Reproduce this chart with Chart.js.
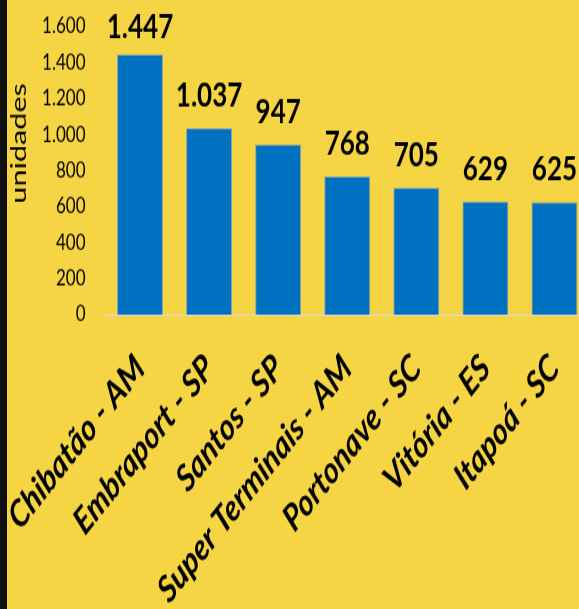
<!DOCTYPE html>
<html><head><meta charset="utf-8">
<script src="https://cdn.jsdelivr.net/npm/chart.js@4.4.1/dist/chart.umd.min.js"></script>
<style>
html,body{margin:0;padding:0;background:#F6D545;overflow:hidden;width:579px;height:609px;position:relative;}
#wrap{position:absolute;left:0;top:0;width:589px;height:480px;transform-origin:0 0;transform:scaleY(1.26875);}
#strip{position:absolute;left:0;top:0;width:7px;height:609px;background:#111;}
</style></head><body>
<div id="wrap"><canvas id="c" width="589" height="480"></canvas></div>
<div id="strip"></div>
<script>
const categories = ['Chibatão - AM','Embraport - SP','Santos - SP','Super Terminais - AM','Portonave - SC','Vitória - ES','Itapoá - SC'];
const values = [1447, 1037, 947, 768, 705, 629, 625];
const yMin = 0;
const yMax = 1600;
const yStep = 200;
const axisTitle = 'unidades';

function fmt(v){ return String(v).replace(/\B(?=(\d{3})+(?!\d))/g, '.'); }

const dataLabelPlugin = {
  id: 'dataLabels',
  afterDatasetsDraw(chart){
    const ctx = chart.ctx;
    const meta = chart.getDatasetMeta(0);
    ctx.save();
    ctx.font = 'bold 26px Lato';
    ctx.fillStyle = '#000';
    ctx.textAlign = 'center';
    ctx.textBaseline = 'alphabetic';
    meta.data.forEach((bar, i) => {
      const y = Math.max(bar.y - 17, 30);
      ctx.fillText(fmt(values[i]), bar.x, y);
    });
    ctx.restore();
  }
};

const yTitlePlugin = {
  id: 'yTitle',
  afterDraw(chart){
    const ctx = chart.ctx;
    const s = chart.scales.y;
    ctx.save();
    ctx.translate(s.left + 26, chart.chartArea.top + 92);
    ctx.rotate(-Math.PI/2);
    ctx.scale(1.15, 1);
    ctx.font = '21px Lato';
    ctx.fillStyle = '#000';
    ctx.textAlign = 'center';
    ctx.textBaseline = 'alphabetic';
    ctx.fillText(axisTitle, 0, 0);
    ctx.restore();
  }
};

new Chart(document.getElementById('c'), {
  type: 'bar',
  data: {
    labels: categories,
    datasets: [{
      data: values,
      backgroundColor: '#0070C0',
      borderColor: '#8FA3AD',
      borderWidth: 1,
      borderSkipped: 'bottom',
      barPercentage: 0.667,
      categoryPercentage: 1
    }]
  },
  options: {
    responsive: false,
    animation: false,
    devicePixelRatio: 1,
    layout: { padding: { top: 21, left: 0, right: 0, bottom: 0 } },
    plugins: { legend: { display: false }, tooltip: { enabled: false } },
    scales: {
      x: {
        grid: { display: false, drawTicks: false },
        border: { display: true, color: '#D9D9D9', width: 1 },
        ticks: {
          color: '#000',
          font: { family: 'Lato', size: 29, weight: 'bold', style: 'italic' },
          minRotation: 45, maxRotation: 45, autoSkip: false, padding: 25
        },
        afterFit(s){ s.height = 232; s.paddingLeft = 0; s.paddingRight = 0; }
      },
      y: {
        min: yMin, max: yMax,
        grid: { display: false, drawTicks: false },
        border: { display: false },
        ticks: {
          stepSize: yStep,
          color: '#000',
          padding: 20,
          font: { family: 'Lato', size: 17 },
          callback: (v) => fmt(v)
        },
        afterFit(s){ s.width = 105.5; s.paddingTop = 0; s.paddingBottom = 0; }
      }
    }
  },
  plugins: [dataLabelPlugin, yTitlePlugin]
});
</script>
</body></html>
